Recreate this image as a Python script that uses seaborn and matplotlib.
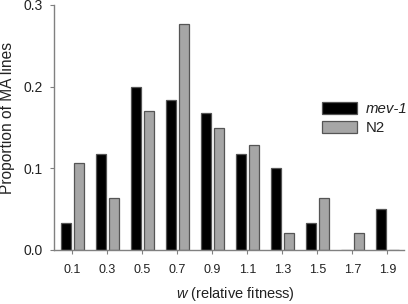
import matplotlib
matplotlib.use("Agg")
import matplotlib.pyplot as plt
import seaborn as sns
import pandas as pd

categories = ["0.1", "0.3", "0.5", "0.7", "0.9", "1.1", "1.3", "1.5", "1.7", "1.9"]
mev1 = [0.033, 0.117, 0.200, 0.183, 0.167, 0.117, 0.100, 0.033, 0.0, 0.050]
n2 = [0.106, 0.064, 0.170, 0.277, 0.149, 0.128, 0.021, 0.064, 0.021, 0.0]
series_names = ["mev-1", "N2"]

df = pd.DataFrame({
    "w": categories * 2,
    "prop": mev1 + n2,
    "line": [series_names[0]] * len(categories) + [series_names[1]] * len(categories),
})

sns.set_style("ticks")
plt.rcParams["font.family"] = ["Liberation Sans", "DejaVu Sans"]
plt.rcParams["mathtext.fontset"] = "custom"
plt.rcParams["mathtext.rm"] = "Liberation Sans"
plt.rcParams["mathtext.it"] = "Liberation Sans:italic"

fig = plt.figure(figsize=(4.08, 3.04), dpi=100)
ax = fig.add_axes([0.132, 0.178, 0.858, 0.806])

sns.barplot(data=df, x="w", y="prop", hue="line", order=categories,
            hue_order=series_names, palette=["#000000", "#a6a6a6"],
            width=0.75, gap=0.25, dodge=True, ax=ax,
            edgecolor="#555555", linewidth=0.9, errorbar=None)

ax.set_xlim(-0.53, 9.47)
ax.set_ylim(0, 0.3)
ax.set_yticks([0.0, 0.1, 0.2, 0.3])
ax.set_yticklabels(["0.0", "0.1", "0.2", "0.3"])

for s in ["top", "right"]:
    ax.spines[s].set_visible(False)
for s in ["left", "bottom"]:
    ax.spines[s].set_color("#808080")
    ax.spines[s].set_linewidth(1.0)

ax.tick_params(axis="x", direction="out", length=3, width=0.8, color="#808080",
               labelsize=9.0, pad=7, labelcolor="#222222")
ax.tick_params(axis="y", direction="out", length=3, width=0.8, color="#808080",
               labelsize=10.0, pad=5, labelcolor="#222222")

ax.set_xlabel("")
ax.set_ylabel("Proportion of MA lines", fontsize=11.2, color="#222222")
ax.yaxis.set_label_coords(-0.111, 0.54)
fig.text(0.577, 0.003, r"$\it{w}$ (relative fitness)", ha="center", va="bottom",
         fontsize=10.5, color="#222222")

handles, labels = ax.get_legend_handles_labels()
leg = ax.legend(handles, labels, loc="upper left", bbox_to_anchor=(0.766, 0.605),
                frameon=False, fontsize=10.8, handlelength=2.3, handleheight=0.9,
                handletextpad=0.6, labelspacing=0.3, borderaxespad=0, borderpad=0)
leg.get_texts()[0].set_fontstyle("italic")
for t in leg.get_texts():
    t.set_color("#222222")

fig.savefig("out.png", dpi=100)
